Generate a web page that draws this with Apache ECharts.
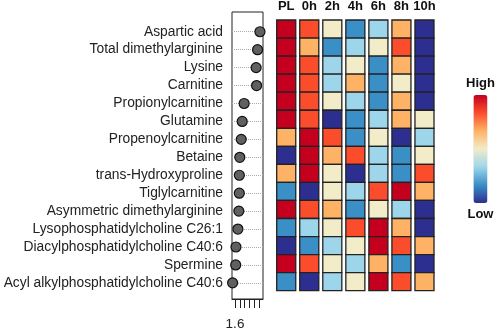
<!DOCTYPE html>
<html>
<head>
<meta charset="utf-8">
<script src="https://cdn.jsdelivr.net/npm/echarts@6/dist/echarts.min.js"></script>
<style>html,body{margin:0;padding:0;background:#fff;}#c{width:498px;height:332px;}</style>
</head>
<body>
<div id="c"></div>
<script>
const metabolites = ["Aspartic acid","Total dimethylarginine","Lysine","Carnitine","Propionylcarnitine","Glutamine","Propenoylcarnitine","Betaine","trans-Hydroxyproline","Tiglylcarnitine","Asymmetric dimethylarginine","Lysophosphatidylcholine C26:1","Diacylphosphatidylcholine C40:6","Spermine","Acyl alkylphosphatidylcholine C40:6"];
const vipScores = [2.12,2.07,2.04,2.05,1.79,1.75,1.73,1.70,1.69,1.69,1.68,1.66,1.62,1.615,1.55];
const timePoints = ["PL","0h","2h","4h","6h","8h","10h"];
// relative level 1 (low) .. 7 (high), row per metabolite, column per time point
const levels = [
  [7,6,4,2,3,5,1],
  [7,5,2,3,4,6,1],
  [7,6,3,4,2,5,1],
  [7,6,3,5,2,4,1],
  [7,6,4,3,2,5,1],
  [7,6,1,2,3,5,4],
  [5,7,6,2,4,1,3],
  [1,7,5,6,3,2,4],
  [5,7,4,1,3,2,6],
  [2,1,4,3,6,7,5],
  [7,6,5,2,4,3,1],
  [2,3,4,6,7,5,1],
  [1,2,3,4,7,6,5],
  [7,6,4,3,5,2,1],
  [2,1,3,4,7,6,5]
];
const xTicks = [1.6,1.7,1.8,1.9,2.0,2.1];
const xTickLabels = [1.6];
const palette = ['#2c2f90','#3a8fc6','#9dd6eb','#f2ecc9','#fdb265','#fb4d2c','#c4001e'];

const heatData = [];
levels.forEach((row, r) => row.forEach((v, c) => heatData.push([c, r, v])));
const dotData = vipScores.map((v, i) => [v, i]);
const rowIdx = metabolites.map((_, i) => i);

const chart = echarts.init(document.getElementById('c'));
chart.setOption({
  animation: false,
  textStyle: {fontFamily: 'Liberation Sans, Arial, sans-serif'},
  grid: [
    {left: 232, top: 12, width: 31, height: 287, show: true, borderColor: '#222', borderWidth: 1, backgroundColor: 'transparent'},
    {left: 274.7, top: 20, width: 161.3, height: 270.7}
  ],
  xAxis: [
    {type: 'value', gridIndex: 0, min: 1.5375, max: 2.1833, position: 'bottom',
      axisLine: {show: true, onZero: false, lineStyle: {color: '#222'}},
      axisTick: {show: true, length: 9, customValues: xTicks, lineStyle: {color: '#222'}},
      axisLabel: {show: true, customValues: xTickLabels, margin: 18, fontSize: 13.5, color: '#222', formatter: v => v.toFixed(1)},
      splitLine: {show: false}},
    {type: 'category', gridIndex: 1, data: timePoints, position: 'top',
      axisLine: {show: false}, axisTick: {show: false},
      axisLabel: {interval: 0, fontSize: 13, fontWeight: 'bold', color: '#111', margin: 7},
      splitLine: {show: false}}
  ],
  yAxis: [
    {type: 'value', gridIndex: 0, min: -1.1, max: 14.9, inverse: true,
      axisLine: {show: false, onZero: false}, axisTick: {show: false},
      axisLabel: {show: true, customValues: rowIdx, margin: 9, fontSize: 13.8, color: '#222', formatter: v => metabolites[Math.round(v)]},
      splitLine: {show: false}},
    {type: 'category', gridIndex: 1, data: metabolites, inverse: true,
      axisLine: {show: false}, axisTick: {show: false}, axisLabel: {show: false}}
  ],
  visualMap: {
    type: 'continuous', min: 1, max: 7, seriesIndex: 2, dimension: 2,
    inRange: {color: palette},
    text: ['High', 'Low'], textGap: 5,
    textStyle: {fontSize: 13, fontWeight: 'bold', color: '#111'},
    itemWidth: 14, itemHeight: 108, left: 451, top: 62,
    calculable: false, orient: 'vertical'
  },
  series: [
    {type: 'scatter', xAxisIndex: 0, yAxisIndex: 0, data: [], z: 1, silent: true,
      markLine: {silent: true, z: 1, symbol: 'none', label: {show: false},
        lineStyle: {type: 'dotted', color: '#aaa', width: 1},
        data: rowIdx.map(i => ({yAxis: i}))}},
    {type: 'scatter', xAxisIndex: 0, yAxisIndex: 0, data: dotData, z: 6, clip: true,
      symbolSize: 10, itemStyle: {color: '#606060', borderColor: '#111', borderWidth: 1.2, opacity: 1}},
    {type: 'custom', xAxisIndex: 1, yAxisIndex: 1, data: heatData,
      renderItem: function (params, api) {
        const p = api.coord([api.value(0), api.value(1)]);
        const s = api.size([1, 1]);
        const w = s[0] - 4, h = s[1];
        return {type: 'rect', shape: {x: p[0] - w / 2, y: p[1] - h / 2, width: w, height: h},
          style: {fill: api.visual('color'), stroke: '#222', lineWidth: 1.3}};
      }}
  ]
});
</script>
</body>
</html>
